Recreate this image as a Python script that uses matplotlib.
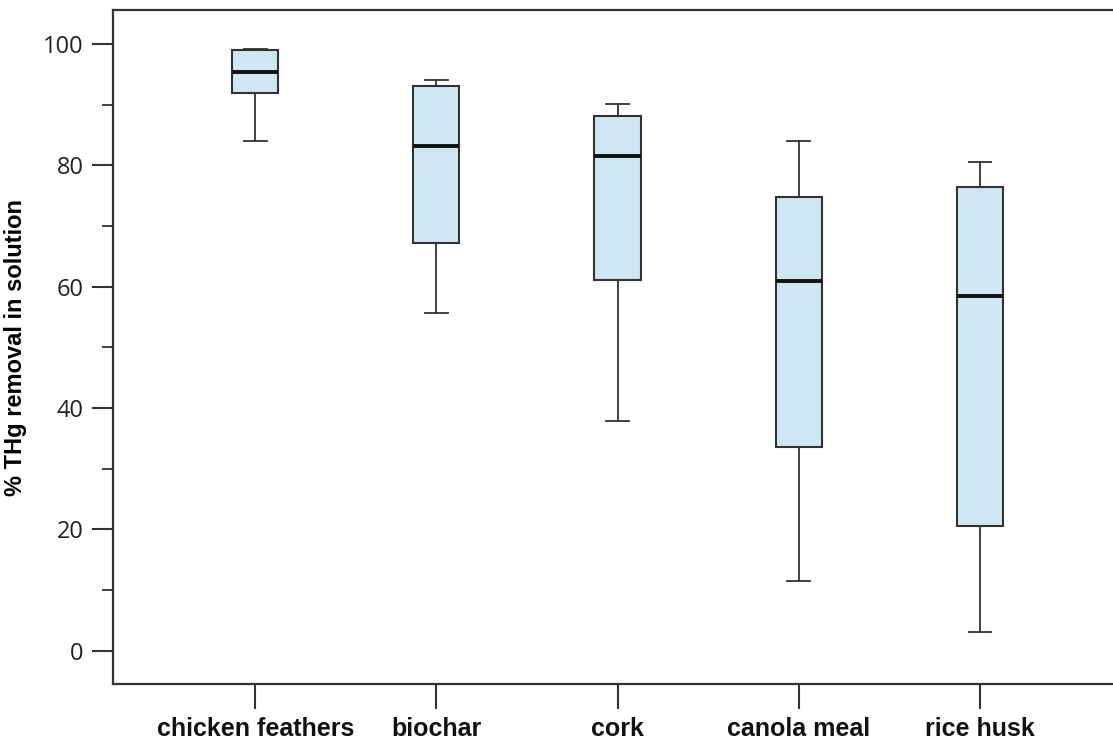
import matplotlib.pyplot as plt
from matplotlib.ticker import MultipleLocator

# box plot summary values
materials = ["chicken feathers", "biochar", "cork", "canola meal", "rice husk"]
whisk_lo = [84.0, 55.7, 37.9, 11.5, 3.0]
q1 = [91.9, 67.2, 61.1, 33.6, 20.6]
median = [95.4, 83.2, 81.5, 61.0, 58.5]
q3 = [99.0, 93.1, 88.1, 74.8, 76.4]
whisk_hi = [99.2, 94.1, 90.1, 84.0, 80.6]

stats = []
for i in range(len(materials)):
    stats.append(dict(label=materials[i], whislo=whisk_lo[i], q1=q1[i],
                      med=median[i], q3=q3[i], whishi=whisk_hi[i], fliers=[]))

line_col = "#333333"
fig = plt.figure(figsize=(11.13, 7.42), dpi=100)
ax = fig.add_axes([113/1113, 1-684/742, 1-113/1113, 674/742])

ax.bxp(stats, positions=range(1, 6), widths=0.255, patch_artist=True,
       showfliers=False,
       boxprops=dict(facecolor="#cfe6f3", edgecolor=line_col, linewidth=1.5),
       medianprops=dict(color="#111111", linewidth=2.8),
       whiskerprops=dict(color=line_col, linewidth=1.3),
       capprops=dict(color=line_col, linewidth=1.3), capwidths=0.125)

ax.set_xlim(0.215, 5.735)
ax.set_ylim(-5.5, 105.6)
ax.yaxis.set_major_locator(MultipleLocator(20))
ax.yaxis.set_minor_locator(MultipleLocator(10))

for side in ["top", "left", "bottom"]:
    ax.spines[side].set_color(line_col)
    ax.spines[side].set_linewidth(1.6)
ax.spines["right"].set_visible(False)

ax.tick_params(axis="y", which="major", length=15, width=1.5, color=line_col,
               labelsize=17, labelcolor="#222222", pad=6)
ax.tick_params(axis="y", which="minor", length=8, width=1.3, color=line_col)
ax.tick_params(axis="x", length=18, width=1.5, color=line_col, pad=6)
for t in ax.get_yticklabels():
    t.set_family("Open Sans")
ax.set_xticks(range(1, 6))
ax.set_xticklabels(materials, fontsize=18, fontweight="bold",
                   family="Liberation Sans", color="#111111")

ax.set_ylabel("% THg removal in solution", fontsize=17, fontweight="bold",
              family="Liberation Sans", labelpad=12)

fig.savefig("out.png", dpi=100)
